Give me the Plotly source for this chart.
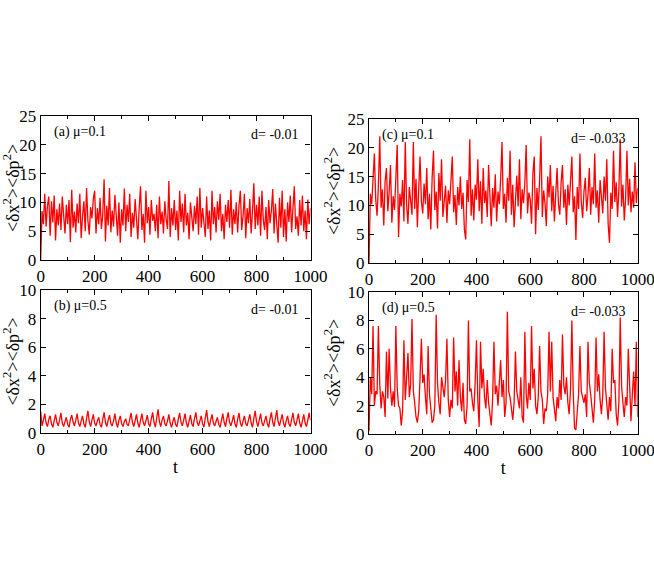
import plotly.graph_objects as go

# time grid, step 5 from 0 to 1000
t = list(range(0, 1001, 5))

# (a) mu=0.1, d=-0.01
var_a = [
    0, 8.5, 6.2, 11.5, 5.8, 9.4, 11.0, 4.2, 10.2, 6.5, 11.2, 3.4, 8.8, 6.0, 9.8, 5.2, 11.0, 7.0, 4.6, 9.6,
    6.2, 10.4, 3.1, 12.2, 5.6, 8.4, 4.8, 9.8, 6.4, 11.5, 3.8, 7.6, 10.2, 5.0, 12.5, 6.8, 4.4, 9.2, 7.2, 10.6,
    12.0, 4.6, 9.0, 6.2, 10.8, 5.4, 7.8, 14.0, 3.2, 9.4, 6.0, 12.5, 4.8, 8.6, 5.8, 11.3, 7.0, 4.2, 10.0, 3.0,
    8.8, 6.0, 12.4, 5.0, 9.6, 6.6, 11.5, 4.0, 8.2, 5.6, 10.6, 7.4, 3.6, 9.0, 12.8, 5.2, 8.0, 3.0, 12.0, 6.4,
    9.2, 4.4, 10.4, 6.8, 8.0, 5.0, 9.6, 3.8, 11.0, 6.2, 8.4, 4.6, 10.2, 7.0, 5.4, 13.7, 4.0, 9.0, 6.0, 10.4,
    5.2, 8.6, 3.4, 12.0, 6.6, 9.8, 4.8, 11.5, 6.0, 8.2, 3.6, 10.0, 7.2, 5.0, 9.4, 6.2, 11.0, 4.4, 12.5, 5.6,
    9.0, 6.8, 4.0, 11.0, 5.4, 8.6, 3.4, 12.0, 6.2, 9.2, 4.8, 10.2, 7.0, 11.5, 5.0, 8.0, 3.6, 9.6, 6.6, 10.4,
    5.6, 12.2, 4.4, 8.8, 6.2, 10.0, 4.8, 9.4, 12.0, 5.2, 7.6, 11.5, 3.8, 9.0, 6.4, 10.6, 4.6, 8.4, 13.3, 5.4,
    9.6, 6.0, 11.0, 4.2, 12.0, 7.0, 5.2, 9.2, 3.6, 10.4, 6.4, 8.6, 12.3, 4.6, 9.8, 6.2, 3.0, 10.8, 5.6, 12.0,
    4.0, 8.8, 3.2, 10.0, 6.6, 11.2, 4.8, 9.0, 12.8, 5.4, 7.6, 4.2, 10.4, 6.0, 11.2, 5.0, 8.6, 3.6, 10.5, 6.2,
    9.0,
]

# (b) mu=0.5, d=-0.01
var_b = [
    1.50, 0.50, 0.90, 1.35, 0.70, 0.45, 0.95, 1.20, 0.65, 0.40, 0.85, 1.30, 0.75, 0.50, 0.90, 1.40, 0.70, 0.45, 0.80, 1.10,
    0.60, 0.40, 0.95, 1.25, 0.75, 0.50, 0.90, 1.35, 0.70, 0.45, 0.85, 1.20, 0.65, 0.40, 1.00, 1.55, 0.80, 0.45, 0.90, 1.30,
    0.70, 0.50, 0.85, 1.10, 0.60, 0.40, 0.95, 1.45, 0.75, 0.45, 0.90, 1.25, 0.65, 0.50, 0.85, 1.35, 0.70, 0.40, 0.90, 1.20,
    0.65, 0.45, 0.80, 1.00, 0.60, 0.50, 0.95, 1.40, 0.75, 0.45, 0.85, 1.30, 0.70, 0.40, 0.90, 1.35, 0.75, 0.50, 0.85, 1.25,
    0.65, 0.45, 1.00, 1.45, 0.75, 0.40, 1.05, 1.65, 0.80, 0.45, 0.90, 1.20, 0.65, 0.50, 0.85, 1.30, 0.70, 0.40, 0.80, 1.10,
    0.60, 0.45, 0.95, 1.40, 0.75, 0.50, 0.90, 1.35, 0.70, 0.40, 0.85, 1.25, 0.65, 0.45, 1.00, 1.45, 0.75, 0.50, 0.85, 1.20,
    0.65, 0.40, 1.05, 1.60, 0.80, 0.45, 0.90, 1.30, 0.70, 0.50, 0.80, 1.10, 0.60, 0.40, 0.90, 1.35, 0.75, 0.45, 1.00, 1.45,
    0.75, 0.50, 0.85, 1.25, 0.65, 0.40, 0.95, 1.40, 0.70, 0.45, 0.85, 1.20, 0.65, 0.50, 0.90, 1.30, 0.70, 0.40, 1.00, 1.55,
    0.80, 0.45, 0.90, 1.35, 0.70, 0.50, 0.85, 1.20, 0.65, 0.40, 1.00, 1.45, 0.75, 0.45, 1.05, 1.60, 0.80, 0.50, 0.90, 1.30,
    0.70, 0.40, 0.85, 1.20, 0.65, 0.45, 0.95, 1.40, 0.75, 0.50, 0.90, 1.35, 0.70, 0.40, 0.85, 1.30, 0.70, 0.45, 0.90, 1.40,
    0.90,
]

# (c) mu=0.1, d=-0.033
var_c = [
    0, 12.0, 10.2, 14.0, 19.0, 11.0, 8.2, 13.5, 22.0, 9.6, 12.8, 6.5, 14.2, 16.5, 9.0, 12.4, 17.0, 7.0, 11.6, 9.2,
    15.0, 20.5, 4.5, 12.0, 9.8, 14.4, 7.2, 21.0, 10.0, 6.8, 13.2, 11.2, 8.4, 21.0, 9.4, 14.6, 6.2, 12.8, 18.5, 10.6,
    8.6, 13.8, 10.2, 16.5, 7.6, 12.0, 5.8, 14.8, 19.5, 9.2, 12.4, 6.0, 15.6, 10.8, 18.0, 8.0, 11.6, 13.4, 7.0, 12.6,
    10.2, 14.0, 18.5, 8.8, 11.8, 6.6, 13.2, 10.0, 15.0, 9.4, 12.2, 5.8, 4.1, 14.4, 10.6, 21.5, 8.2, 12.8, 7.4, 13.6,
    11.0, 18.0, 9.0, 14.2, 6.8, 16.5, 10.4, 12.6, 8.0, 17.0, 11.8, 6.4, 13.0, 9.6, 15.4, 7.2, 12.4, 10.2, 14.6, 21.0,
    9.4, 12.0, 7.0, 14.8, 10.8, 19.5, 8.4, 13.6, 6.2, 11.4, 15.2, 9.8, 18.0, 7.6, 12.8, 10.4, 14.0, 20.5, 8.6, 12.2,
    11.0, 6.8, 15.6, 18.5, 5.0, 13.0, 9.2, 14.6, 22.0, 8.0, 12.6, 10.4, 6.4, 15.0, 11.4, 17.0, 9.0, 13.4, 7.2, 12.0,
    16.5, 10.2, 8.4, 14.0, 17.0, 9.6, 12.8, 6.6, 13.6, 10.0, 15.4, 18.5, 8.8, 11.6, 4.0, 13.2, 9.4, 19.0, 10.6, 7.8,
    12.4, 14.8, 9.0, 11.8, 16.5, 8.4, 13.2, 10.2, 19.0, 9.6, 12.6, 7.0, 14.4, 11.0, 8.6, 15.0, 10.8, 18.0, 6.8, 3.5,
    12.2, 9.4, 19.5, 10.6, 14.0, 8.0, 12.8, 21.5, 9.8, 13.6, 7.4, 11.2, 19.5, 10.0, 14.6, 8.8, 12.4, 9.6, 17.5, 10.4,
    13.0,
]

# (d) mu=0.5, d=-0.033
var_d = [
    0.2, 4.0, 2.8, 7.6, 2.0, 3.0, 2.8, 7.6, 3.5, 1.8, 3.0, 2.6, 1.2, 5.8, 2.5, 6.0, 3.2, 2.0, 3.0, 1.9,
    7.6, 3.2, 2.0, 1.8, 0.6, 1.6, 6.6, 2.4, 4.0, 5.7, 2.6, 3.5, 8.1, 3.0, 2.2, 1.2, 0.8, 1.6, 4.0, 6.7,
    3.6, 4.2, 2.6, 1.4, 6.2, 2.8, 1.8, 0.8, 1.0, 2.0, 8.4, 3.6, 2.2, 1.4, 4.0, 3.2, 2.6, 3.8, 6.7, 2.4,
    1.2, 2.4, 1.8, 6.8, 3.0, 4.4, 2.0, 5.2, 2.6, 1.6, 3.6, 1.0, 0.7, 2.0, 8.0, 3.0, 3.2, 2.2, 1.6, 3.6,
    6.6, 2.4, 0.5, 6.5, 3.2, 4.6, 2.6, 1.8, 3.8, 2.2, 1.2, 0.6, 2.4, 6.5, 2.8, 3.4, 2.0, 4.0, 5.2, 2.6,
    3.8, 1.2, 2.2, 8.6, 3.0, 2.6, 1.6, 1.0, 2.2, 5.8, 3.0, 2.2, 1.8, 4.0, 1.2, 0.8, 7.2, 2.8, 1.8, 3.6,
    2.4, 7.6, 3.2, 4.6, 2.0, 1.4, 2.6, 6.2, 3.0, 2.4, 0.7, 1.8, 1.6, 2.8, 7.2, 3.0, 6.5, 2.6, 1.6, 0.9,
    2.6, 1.8, 3.8, 2.4, 7.0, 3.4, 2.8, 4.0, 2.2, 1.4, 3.2, 8.0, 3.0, 0.4, 0.3, 2.0, 2.8, 6.2, 3.0, 2.6,
    2.2, 2.8, 1.2, 6.5, 3.6, 2.8, 1.6, 0.8, 2.4, 6.8, 3.0, 4.2, 2.4, 1.4, 2.8, 7.2, 3.2, 2.0, 1.0, 2.6,
    1.6, 6.0, 3.6, 3.8, 1.4, 0.6, 2.2, 8.2, 3.4, 2.2, 1.2, 2.6, 2.0, 6.0, 3.0, 0.9, 2.8, 4.4, 2.0, 6.5,
    1.2,
]

panel_labels = ["(a) μ=0.1", "(b) μ=0.5", "(c) μ=0.1", "(d) μ=0.5"]
d_labels = ["d= -0.01", "d= -0.01", "d= -0.033", "d= -0.033"]
y_ranges = [[0, 25], [0, 10], [0, 25], [0, 10]]
y_dticks = [5, 2, 5, 2]

W, H = 654, 571
FONT = "Liberation Serif"
RED = "#ff0000"

# pixel boxes of the four panels: (left, right, top, bottom)
boxes = [
    (40.7, 310.5, 116, 260),
    (40.7, 310.5, 290, 433),
    (369.0, 637.7, 119, 263),
    (369.0, 637.7, 292, 434),
]
series = [var_a, var_b, var_c, var_d]

fig = go.Figure()
layout = {}
for i, (vals, box) in enumerate(zip(series, boxes)):
    n = "" if i == 0 else str(i + 1)
    fig.add_trace(go.Scatter(
        x=t, y=vals, mode="lines",
        line=dict(color=RED, width=1.3),
        xaxis="x" + n, yaxis="y" + n,
        showlegend=False,
    ))
    l, r, tp, bt = box
    layout["xaxis" + n] = dict(
        domain=[l / W, r / W], anchor="y" + n, automargin=False,
        range=[0, 1000], dtick=200, tick0=0, ticklabeloverflow="allow",
        ticks="inside", ticklen=5, tickwidth=1, tickcolor="black",
        minor=dict(dtick=100, ticks="inside", ticklen=3, tickcolor="black"),
        showline=True, linecolor="black", linewidth=1.2, mirror="ticks",
        showgrid=False, zeroline=False,
        tickfont=dict(family=FONT, size=17, color="black"),
        title=dict(text="t" if i in (1, 3) else "",
                   font=dict(family=FONT, size=18, color="black"), standoff=2),
    )
    layout["yaxis" + n] = dict(
        domain=[1 - bt / H, 1 - tp / H], anchor="x" + n, automargin=False,
        range=y_ranges[i], dtick=y_dticks[i], tick0=0,
        ticks="inside", ticklen=5, tickwidth=1, tickcolor="black",
        showline=True, linecolor="black", linewidth=1.2, mirror="ticks",
        showgrid=False, zeroline=False,
        tickfont=dict(family=FONT, size=17, color="black"),
        title=dict(text="&lt;δx<sup>2</sup>&gt;&lt;δp<sup>2</sup>&gt;",
                   font=dict(family=FONT, size=18, color="black"), standoff=2),
    )

annotations = []
for i, box in enumerate(boxes):
    l, r, tp, bt = box
    annotations.append(dict(
        text=panel_labels[i], x=(l + 11) / W, y=1 - (tp + 16) / H,
        xref="paper", yref="paper", xanchor="left", yanchor="middle",
        showarrow=False, font=dict(family=FONT, size=14, color="black"),
    ))
    annotations.append(dict(
        text=d_labels[i], x=(r - 10) / W, y=1 - (tp + 19) / H,
        xref="paper", yref="paper", xanchor="right", yanchor="middle",
        showarrow=False, font=dict(family=FONT, size=14, color="black"),
    ))

fig.update_layout(
    **layout,
    annotations=annotations,
    width=W, height=H,
    margin=dict(l=0, r=0, t=0, b=0),
    paper_bgcolor="white", plot_bgcolor="white",
)

# drop the default 8px page margin so the figure fills the window
fig.write_html(
    "out.html",
    config={"displayModeBar": False},
    post_script="document.body.style.margin='0';",
)
